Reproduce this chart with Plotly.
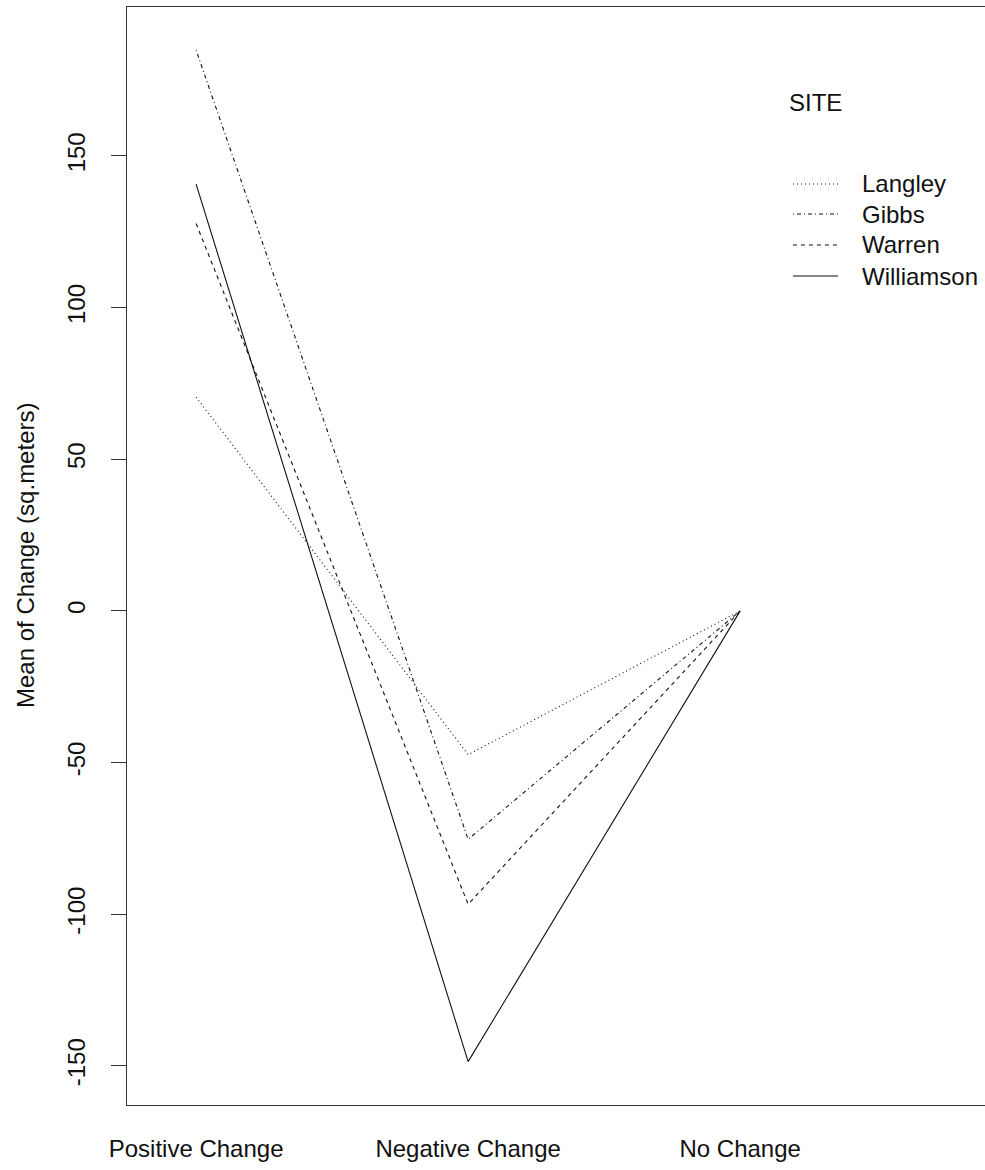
import plotly.graph_objects as go

# Interaction plot: mean change in area by change class, one line per site
change_class = ["Positive Change", "Negative Change", "No Change"]
sites = ["Langley", "Gibbs", "Warren", "Williamson"]
langley = [70.5, -47.4, 0.0]
gibbs = [184.9, -75.3, 0.0]
warren = [127.7, -96.7, 0.0]
williamson = [140.7, -148.6, 0.0]
y_ticks = [-150, -100, -50, 0, 50, 100, 150]
y_tick_text = ["-150", "-100", "-50", "0", "50", "100", "150"]

series = [langley, gibbs, warren, williamson]
dashes = ["1px,3px", "1px,3px,4px,3px", "4px,4px", "solid"]

W, H = 985, 1170
L, R, T, B = 127, 0, 7, 65
FONT = dict(family="Liberation Sans, Arial, sans-serif", size=24, color="#111")

x_pos = list(range(1, len(change_class) + 1))

fig = go.Figure()
for name, vals, dash in zip(sites, series, dashes):
    fig.add_trace(go.Scatter(
        x=x_pos, y=vals, mode="lines", name=name,
        line=dict(color="#111", width=1.1, dash=dash),
        showlegend=False, hoverinfo="x+y+name",
    ))

fig.update_layout(
    width=W, height=H,
    margin=dict(l=L, r=R, t=T, b=B, pad=0),
    paper_bgcolor="white", plot_bgcolor="white",
    font=FONT,
)

fig.update_xaxes(
    range=[0.746, 3.90], tickmode="array", tickvals=x_pos, ticktext=change_class,
    showgrid=False, zeroline=False, ticks="",
    showline=True, linecolor="#333", linewidth=1.3, mirror=True,
    ticklabelstandoff=22, tickfont=FONT,
)
fig.update_yaxes(
    range=[-162.9, 199.1], tickmode="array", tickvals=y_ticks, ticktext=y_tick_text,
    showgrid=False, zeroline=False,
    ticks="outside", ticklen=15, tickcolor="#333", tickwidth=1.3,
    showline=True, linecolor="#333", linewidth=1.3, mirror=False,
    tickangle=-90, ticklabelstandoff=16, tickfont=FONT,
)

pw, ph = W - L - R, H - T - B


def px(x):
    return (x - L) / pw


def py(y):
    return (H - B - y) / ph


# y-axis title
fig.add_annotation(
    text="Mean of Change (sq.meters)", xref="paper", yref="paper",
    x=px(25), y=py(556), textangle=-90, showarrow=False,
    xanchor="center", yanchor="middle", font=FONT,
)

# legend block: title, line keys and site names
fig.add_annotation(
    text="SITE", xref="paper", yref="paper", x=px(787), y=py(102),
    showarrow=False, xanchor="left", yanchor="middle", font=FONT,
)
legend_rows = [184, 214, 245, 276]
for name, dash, yrow in zip(sites, dashes, legend_rows):
    fig.add_shape(
        type="line", xref="paper", yref="paper",
        x0=px(793), x1=px(838), y0=py(yrow), y1=py(yrow),
        line=dict(color="#111", width=1.1, dash=dash),
    )
    fig.add_annotation(
        text=name, xref="paper", yref="paper", x=px(860), y=py(yrow),
        showarrow=False, xanchor="left", yanchor="middle", font=FONT,
    )

fig.write_html("out.html")
